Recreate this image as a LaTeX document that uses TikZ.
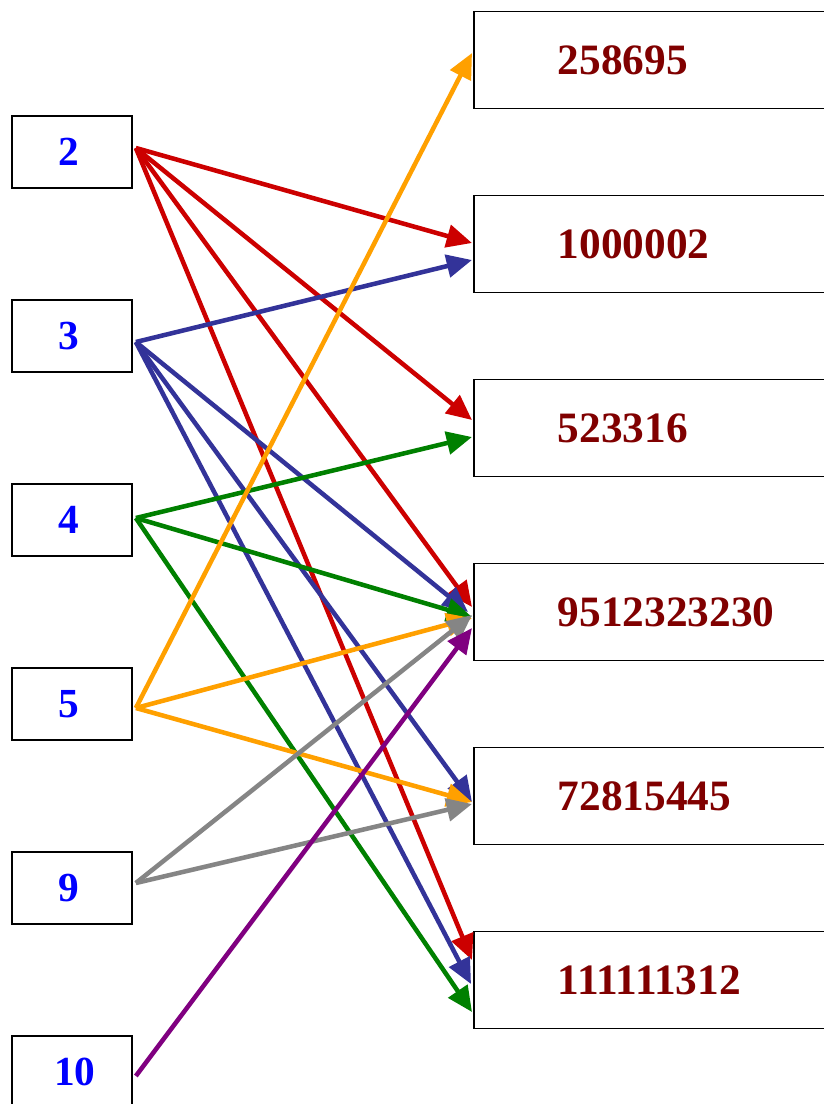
\documentclass[tikz,border=0pt]{standalone}
\usepackage{fontspec}
\setmainfont{Liberation Serif}
\usetikzlibrary{arrows.meta,calc}
\definecolor{cred}{HTML}{CC0000}
\definecolor{cnavy}{HTML}{333399}
\definecolor{cgreen}{HTML}{008000}
\definecolor{corange}{HTML}{FFA000}
\definecolor{cgray}{HTML}{858585}
\definecolor{cpurple}{HTML}{800080}
\definecolor{ltext}{HTML}{0000FF}
\definecolor{rtext}{HTML}{800000}
\begin{document}
\begin{tikzpicture}[x=0.75pt,y=-0.75pt,
  lbox/.style={draw=black,line width=1.3pt,fill=white,minimum width=90pt,minimum height=54pt,inner sep=0pt,
    font=\fontsize{31}{34}\selectfont\bfseries,text=ltext},
  rbox/.style={draw=black,line width=1.3pt,fill=white,anchor=west,minimum height=72.75pt,inner xsep=63pt,inner ysep=0pt,
    text width=150pt,align=left,font=\fontsize{32.5}{36}\selectfont\bfseries,text=rtext},
  arr/.style={line width=3.4pt,-{Triangle[length=19pt,width=17pt]}}]
\useasboundingbox (0,0) rectangle (824,1104);
\clip (0,0) rectangle (824,1104);
\fill[white] (0,0) rectangle (824,1104);
% left boxes
\node[lbox] (l2) at (72,152) {\hspace*{-5pt}2};
\node[lbox] (l3) at (72,336) {\hspace*{-5pt}3};
\node[lbox] (l4) at (72,520) {\hspace*{-5pt}4};
\node[lbox] (l5) at (72,704) {\hspace*{-5pt}5};
\node[lbox] (l9) at (72,888) {\hspace*{-5pt}9};
\node[lbox] (l10) at (72,1072) {\hspace*{4pt}10};
% right boxes
\node[rbox] (r1) at (473,60) {258695};
\node[rbox] (r2) at (473,244) {1000002};
\node[rbox] (r3) at (473,428) {523316};
\node[rbox] (r4) at (473,612) {9512323230};
\node[rbox] (r5) at (473,796) {72815445};
\node[rbox] (r6) at (473,980) {111111312};
% arrows from 2 (red)
\draw[arr,cred] ($(l2.east)+(3,-4)$) -- ($(r2.west)+(-1,-1)$);
\draw[arr,cred] ($(l2.east)+(3,-4)$) -- ($(r3.west)+(-1,-8)$);
\draw[arr,cred] ($(l2.east)+(3,-4)$) -- ($(r4.west)+(-1,-5)$);
\draw[arr,cred] ($(l2.east)+(3,-4)$) -- ($(r6.west)+(-1,-20)$);
% arrows from 3 (navy)
\draw[arr,cnavy] ($(l3.east)+(3,6)$) -- ($(r2.west)+(-1,16)$);
\draw[arr,cnavy] ($(l3.east)+(3,6)$) -- ($(r4.west)+(-5,0)$);
\draw[arr,cnavy] ($(l3.east)+(3,6)$) -- ($(r5.west)+(-1,6)$);
\draw[arr,cnavy] ($(l3.east)+(3,6)$) -- ($(r6.west)+(-2,4)$);
% arrows from 4 (green)
\draw[arr,cgreen] ($(l4.east)+(3,-2)$) -- ($(r3.west)+(-1,9)$);
\draw[arr,cgreen] ($(l4.east)+(3,-2)$) -- ($(r4.west)+(-1,5)$);
\draw[arr,cgreen] ($(l4.east)+(3,-2)$) -- ($(r6.west)+(-1,32)$);
% arrows from 5 (orange)
\draw[arr,corange] ($(l5.east)+(3,4)$) -- ($(r1.west)+(-1,-7)$);
\draw[arr,corange] ($(l5.east)+(3,4)$) -- ($(r4.west)+(-1,6)$);
\draw[arr,corange] ($(l5.east)+(3,4)$) -- ($(r5.west)+(-1,6)$);
% arrows from 9 (gray)
\draw[arr,cgray] ($(l9.east)+(3,-5)$) -- ($(r4.west)+(-1,3)$);
\draw[arr,cgray] ($(l9.east)+(3,-5)$) -- ($(r5.west)+(-1,8)$);
% arrow from 10 (purple)
\draw[arr,cpurple] ($(l10.east)+(3,4)$) -- ($(r4.west)+(-1,16)$);
\end{tikzpicture}
\end{document}
